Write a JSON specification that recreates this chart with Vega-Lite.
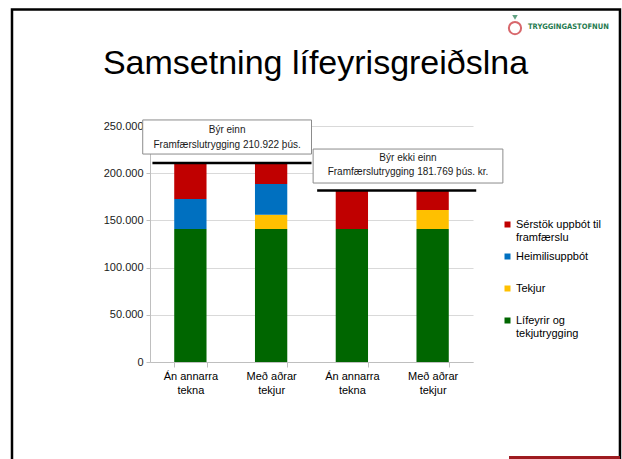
{
  "$schema": "https://vega.github.io/schema/vega-lite/v6.json",
  "width": 323,
  "height": 236,
  "autosize": {"type": "none"},
  "padding": {"left": 150, "top": 126, "right": 149, "bottom": 97},
  "background": "white",
  "config": {
    "font": "Liberation Sans",
    "view": {"stroke": null},
    "axis": {"labelFont": "Liberation Sans", "labelFontSize": 11, "labelColor": "#1a1a1a"},
    "legend": {"labelFont": "Liberation Sans"}
  },
  "title": {
    "text": "Samsetning lífeyrisgreiðslna",
    "fontSize": 34,
    "fontWeight": "normal",
    "font": "Liberation Sans",
    "color": "#000000",
    "anchor": "middle",
    "frame": "group",
    "baseline": "alphabetic",
    "dx": 4,
    "dy": 100,
    "offset": 0
  },
  "layer": [
    {
      "data": {
        "values": [
          {"flokkur": "1|Án annarra|tekna", "lidur": "Lífeyrir og tekjutrygging", "rod": 1, "upphaed": 141000},
          {"flokkur": "1|Án annarra|tekna", "lidur": "Heimilisuppbót", "rod": 3, "upphaed": 31700},
          {"flokkur": "1|Án annarra|tekna", "lidur": "Sérstök uppbót til framfærslu", "rod": 4, "upphaed": 38222},
          {"flokkur": "2|Með aðrar|tekjur", "lidur": "Lífeyrir og tekjutrygging", "rod": 1, "upphaed": 141000},
          {"flokkur": "2|Með aðrar|tekjur", "lidur": "Tekjur", "rod": 2, "upphaed": 15000},
          {"flokkur": "2|Með aðrar|tekjur", "lidur": "Heimilisuppbót", "rod": 3, "upphaed": 32600},
          {"flokkur": "2|Með aðrar|tekjur", "lidur": "Sérstök uppbót til framfærslu", "rod": 4, "upphaed": 22322},
          {"flokkur": "3|Án annarra|tekna", "lidur": "Lífeyrir og tekjutrygging", "rod": 1, "upphaed": 141000},
          {"flokkur": "3|Án annarra|tekna", "lidur": "Sérstök uppbót til framfærslu", "rod": 4, "upphaed": 40769},
          {"flokkur": "4|Með aðrar|tekjur", "lidur": "Lífeyrir og tekjutrygging", "rod": 1, "upphaed": 141000},
          {"flokkur": "4|Með aðrar|tekjur", "lidur": "Tekjur", "rod": 2, "upphaed": 20000},
          {"flokkur": "4|Með aðrar|tekjur", "lidur": "Sérstök uppbót til framfærslu", "rod": 4, "upphaed": 20769}
        ]
      },
      "mark": {"type": "bar"},
      "encoding": {
        "x": {
          "field": "flokkur",
          "type": "nominal",
          "sort": null,
          "scale": {"paddingInner": 0.6, "paddingOuter": 0.3},
          "axis": {
            "title": null,
            "labelAngle": 0,
            "labelExpr": "slice(split(datum.label, '|'), 1)",
            "labelLineHeight": 14,
            "labelPadding": 3,
            "tickBand": "extent",
            "tickSize": 5,
            "tickColor": "#bfbfbf",
            "domainColor": "#bfbfbf",
            "labelColor": "#000000"
          }
        },
        "y": {
          "field": "upphaed",
          "type": "quantitative",
          "stack": "zero",
          "scale": {"domain": [0, 250000], "nice": false},
          "axis": {
            "title": null,
            "values": [0, 50000, 100000, 150000, 200000, 250000],
            "labelExpr": "datum.value == 0 ? '0' : format(datum.value / 1000, 'd') + '.000'",
            "gridColor": "#d9d9d9",
            "domainColor": "#bfbfbf",
            "tickColor": "#bfbfbf",
            "tickSize": 4,
            "labelPadding": 3
          }
        },
        "color": {
          "field": "lidur",
          "type": "nominal",
          "scale": {
            "domain": ["Sérstök uppbót til framfærslu", "Heimilisuppbót", "Tekjur", "Lífeyrir og tekjutrygging"],
            "range": ["#c00000", "#0070c0", "#ffc000", "#006600"]
          },
          "legend": {
            "title": null,
            "orient": "none",
            "legendX": 352,
            "legendY": 93,
            "symbolType": "square",
            "symbolSize": 36,
            "symbolStrokeWidth": 0,
            "labelFontSize": 11,
            "labelColor": "#000000",
            "labelLimit": 200,
            "labelOffset": 3,
            "labelBaseline": "middle",
            "labelLineHeight": 13,
            "rowPadding": 7,
            "labelExpr": "datum.label == 'Sérstök uppbót til framfærslu' ? ['Sérstök uppbót til', 'framfærslu'] : datum.label == 'Lífeyrir og tekjutrygging' ? ['Lífeyrir og', 'tekjutrygging'] : [datum.label, ' ']"
          }
        },
        "order": {"field": "rod", "type": "quantitative", "sort": "ascending"}
      }
    },
    {
      "layer": [
        {
          "data": {"values": [{"x": -1.709, "x2": 5.82, "y": 373400, "y2": -130000}]},
          "mark": {"type": "rect", "filled": false, "stroke": "#000000", "strokeWidth": 2.5},
          "encoding": {
            "x": {"field": "x", "type": "quantitative", "scale": {"domain": [0, 4]}, "axis": null},
            "x2": {"field": "x2"},
            "y": {"field": "y", "type": "quantitative", "scale": {"domain": [0, 250000]}, "axis": null},
            "y2": {"field": "y2"}
          }
        },
        {
          "data": {"values": [{"x": 4.446, "x2": 5.82, "y": -99600, "y2": -110000}]},
          "mark": {"type": "rect", "color": "#9e1b20"},
          "encoding": {
            "x": {"field": "x", "type": "quantitative", "scale": {"domain": [0, 4]}, "axis": null},
            "x2": {"field": "x2"},
            "y": {"field": "y", "type": "quantitative", "scale": {"domain": [0, 250000]}, "axis": null},
            "y2": {"field": "y2"}
          }
        },
        {
          "data": {"values": [
            {"x": 0.03, "x2": 2.0, "y": 210922},
            {"x": 2.07, "x2": 4.04, "y": 181769}
          ]},
          "mark": {"type": "rule", "color": "#000000", "strokeWidth": 2.5},
          "encoding": {
            "x": {"field": "x", "type": "quantitative", "scale": {"domain": [0, 4]}, "axis": null},
            "x2": {"field": "x2"},
            "y": {"field": "y", "type": "quantitative", "scale": {"domain": [0, 250000]}, "axis": null}
          }
        },
        {
          "data": {"values": [
            {"x": -0.09, "x2": 2.0, "y": 256400, "y2": 220300},
            {"x": 2.02, "x2": 4.37, "y": 225600, "y2": 189600}
          ]},
          "mark": {"type": "rect", "fill": "#ffffff", "stroke": "#8c8c8c", "strokeWidth": 1},
          "encoding": {
            "x": {"field": "x", "type": "quantitative", "scale": {"domain": [0, 4]}, "axis": null},
            "x2": {"field": "x2"},
            "y": {"field": "y", "type": "quantitative", "scale": {"domain": [0, 250000]}, "axis": null},
            "y2": {"field": "y2"}
          }
        },
        {
          "data": {"values": [
            {"x": 0.955, "y": 245800, "texti": "Býr einn"},
            {"x": 0.955, "y": 229900, "texti": "Framfærslutrygging 210.922 þús."},
            {"x": 3.195, "y": 216100, "texti": "Býr ekki einn"},
            {"x": 3.195, "y": 201300, "texti": "Framfærslutrygging 181.769 þús. kr."}
          ]},
          "mark": {"type": "text", "fontSize": 10, "font": "Liberation Sans", "color": "#1a1a1a", "align": "center", "baseline": "middle"},
          "encoding": {
            "x": {"field": "x", "type": "quantitative", "scale": {"domain": [0, 4]}, "axis": null},
            "y": {"field": "y", "type": "quantitative", "scale": {"domain": [0, 250000]}, "axis": null},
            "text": {"field": "texti"}
          }
        },
        {
          "data": {"values": [{"x": 4.681, "y": 354900, "texti": "TRYGGINGASTOFNUN"}]},
          "mark": {"type": "text", "fontSize": 7.5, "font": "DejaVu Sans Condensed", "fontWeight": "bold", "color": "#1f7a4f", "align": "left", "baseline": "middle"},
          "encoding": {
            "x": {"field": "x", "type": "quantitative", "scale": {"domain": [0, 4]}, "axis": null},
            "y": {"field": "y", "type": "quantitative", "scale": {"domain": [0, 250000]}, "axis": null},
            "text": {"field": "texti"}
          }
        },
        {
          "data": {"values": [{"x": 4.52, "y": 353800}]},
          "mark": {"type": "point", "shape": "circle", "size": 150, "filled": false, "stroke": "#c8282e", "strokeWidth": 2},
          "encoding": {
            "x": {"field": "x", "type": "quantitative", "scale": {"domain": [0, 4]}, "axis": null},
            "y": {"field": "y", "type": "quantitative", "scale": {"domain": [0, 250000]}, "axis": null}
          }
        },
        {
          "data": {"values": [{"x": 4.52, "y": 365000}]},
          "mark": {"type": "point", "shape": "triangle-down", "size": 30, "filled": true, "color": "#1f7a4f"},
          "encoding": {
            "x": {"field": "x", "type": "quantitative", "scale": {"domain": [0, 4]}, "axis": null},
            "y": {"field": "y", "type": "quantitative", "scale": {"domain": [0, 250000]}, "axis": null}
          }
        }
      ]
    }
  ],
  "resolve": {"scale": {"x": "independent", "y": "independent"}, "axis": {"x": "independent", "y": "independent"}}
}
